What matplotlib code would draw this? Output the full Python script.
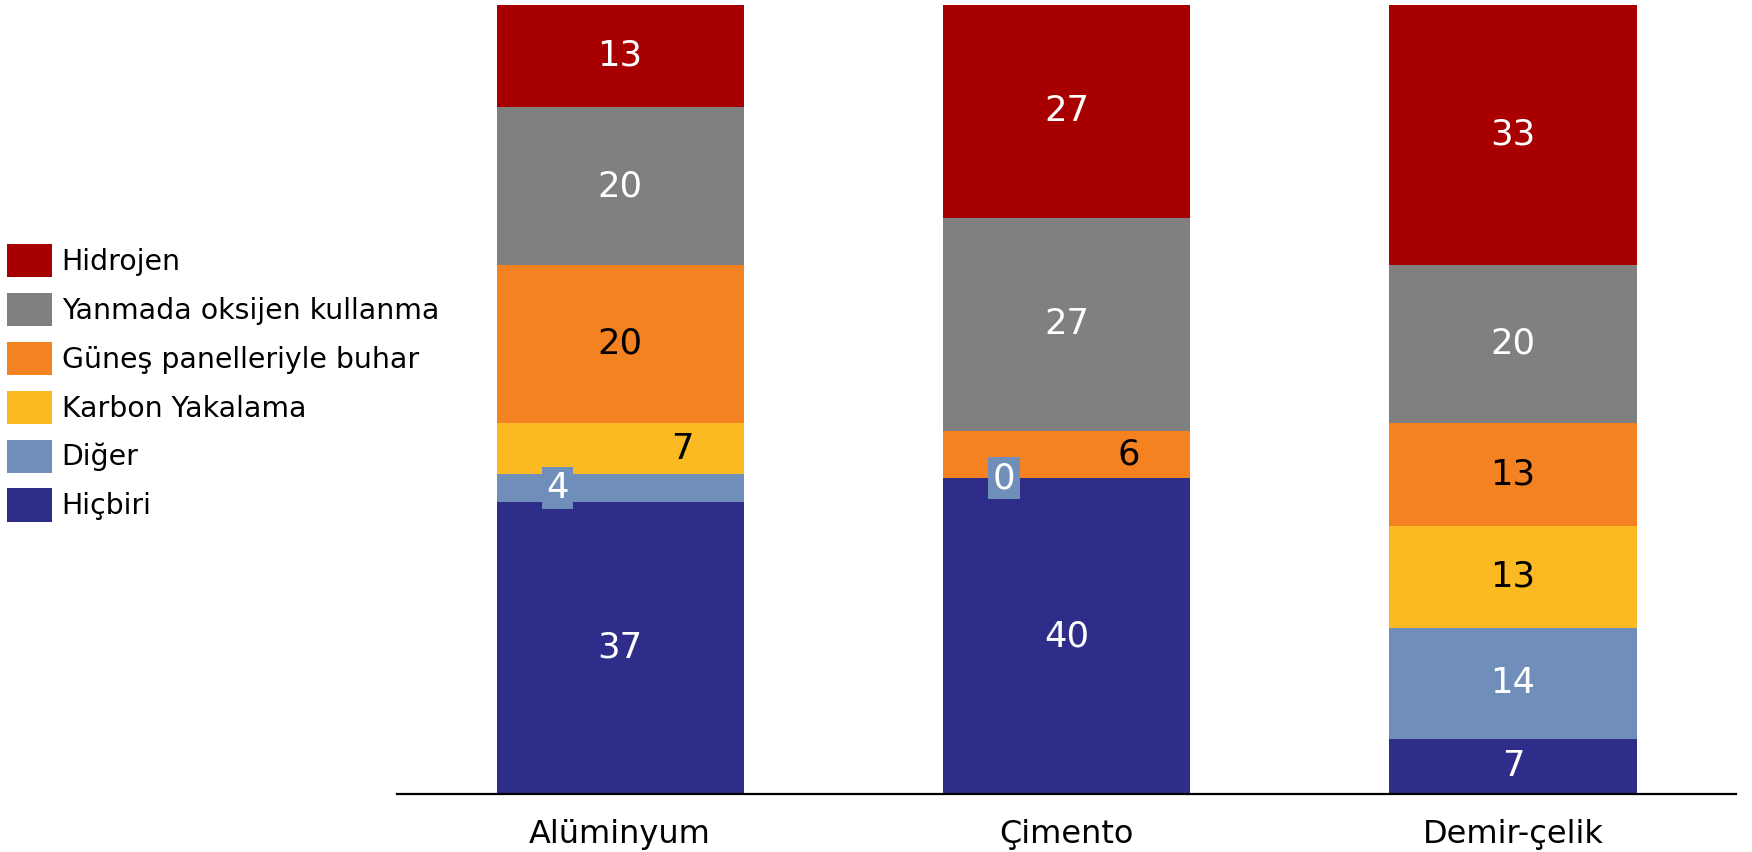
import numpy as np
import matplotlib.pyplot as plt
from matplotlib.patches import Patch

plt.rcParams['font.family'] = ['DejaVu Sans']

categories = ['Alüminyum', 'Çimento', 'Demir-çelik']
series = ['Hiçbiri', 'Diğer', 'Karbon Yakalama', 'Güneş panelleriyle buhar',
          'Yanmada oksijen kullanma', 'Hidrojen']
values = {
    'Hiçbiri': [37, 40, 7],
    'Diğer': [3.5, 0, 14],
    'Karbon Yakalama': [6.5, 0, 13],
    'Güneş panelleriyle buhar': [20, 6, 13],
    'Yanmada oksijen kullanma': [20, 27, 20],
    'Hidrojen': [13, 27, 33],
}
colors = {
    'Hiçbiri': '#2e2e8a',
    'Diğer': '#6f8fba',
    'Karbon Yakalama': '#fbba22',
    'Güneş panelleriyle buhar': '#f58220',
    'Yanmada oksijen kullanma': '#808080',
    'Hidrojen': '#a80000',
}
text_colors = {
    'Hiçbiri': 'white', 'Diğer': 'white', 'Karbon Yakalama': 'black',
    'Güneş panelleriyle buhar': 'black', 'Yanmada oksijen kullanma': 'white',
    'Hidrojen': 'white',
}

fig = plt.figure(figsize=(17.52, 8.52), dpi=100)
ax = fig.add_axes([0.2266, 0.0681, 0.7643, 0.9266])

x = np.arange(len(categories))
width = 0.554
bottom = np.zeros(len(categories))
for name in series:
    vals = np.array(values[name], dtype=float)
    ax.bar(x, vals, width, bottom=bottom, color=colors[name], linewidth=0)
    for i, v in enumerate(vals):
        if v == 0 and name != 'Diğer':
            continue
        label = f"{int(v + 0.5)}"
        y = bottom[i] + v / 2
        xi = x[i]
        box = None
        # small segments get their label pushed to the side
        if v < 10 and name == 'Diğer':
            xi = x[i] - 0.14
            box = dict(facecolor=colors[name], edgecolor='none', pad=3)
        elif v < 10 and name != 'Hiçbiri':
            xi = x[i] + 0.14
        ax.text(xi, y, label, ha='center', va='center', fontsize=25.5,
                color=text_colors[name], bbox=box)
    bottom += vals

ax.set_xlim(-0.5, 2.5)
ax.set_ylim(0, 100)
ax.set_xticks(x)
ax.set_xticklabels(categories, fontsize=23)
ax.tick_params(axis='x', length=0, pad=18)
ax.set_yticks([])
for s in ['top', 'left', 'right']:
    ax.spines[s].set_visible(False)
ax.spines['bottom'].set_linewidth(1.6)

handles = [Patch(facecolor=colors[n], edgecolor='none', label=n) for n in reversed(series)]
fig.legend(handles=handles, loc='upper left', bbox_to_anchor=(0.004, 0.714),
           frameon=False, fontsize=20.4, handlelength=1.58, handleheight=1.42,
           handletextpad=0.35, labelspacing=0.56, borderpad=0, borderaxespad=0)

fig.savefig('out.png', dpi=100)
